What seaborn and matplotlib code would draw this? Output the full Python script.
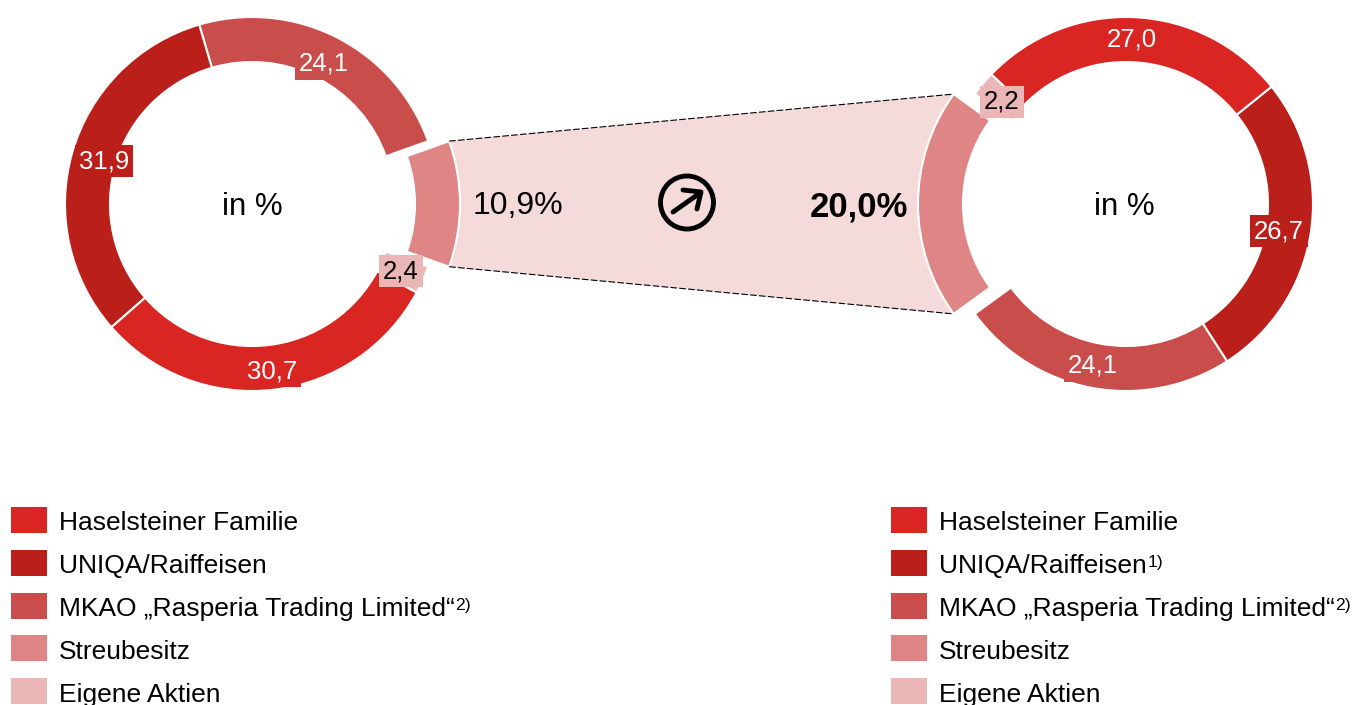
import numpy as np
import matplotlib
matplotlib.use("Agg")
import matplotlib.pyplot as plt
import seaborn as sns
from matplotlib.patches import Circle, Patch

sns.set_theme(style="white")
plt.rcParams["font.family"] = ["Liberation Sans", "DejaVu Sans"]

W, H = 1355, 705

# slice order is the same on both rings, counter clockwise from the Streubesitz wedge
owners = ["Streubesitz", "MKAO", "UNIQA", "Haselsteiner", "Eigene Aktien"]
before = [10.9, 24.1, 31.9, 30.7, 2.4]
after = [20.0, 24.1, 26.7, 27.0, 2.2]
before_label = "10,9%"
after_label = "20,0%"
center_label = "in %"

legend_before = ["Haselsteiner Familie", "UNIQA/Raiffeisen",
                 "MKAO „Rasperia Trading Limited“", "Streubesitz", "Eigene Aktien"]
legend_after = list(legend_before)
notes_before = [None, None, "2)", None, None]
notes_after = [None, "1)", "2)", None, None]

colors = sns.color_palette(["#E08585", "#C94D4A", "#BA1F1A", "#D92622", "#EBB6B6"])
legend_colors = [colors[3], colors[2], colors[1], colors[0], colors[4]]
BAND = "#F5DADA"


def py(y):
    # reference pixel rows run downwards
    return H - y


def comma(v):
    return f"{v:.1f}".replace(".", ",")


fig = plt.figure(figsize=(W / 100, H / 100), dpi=100)
ax = fig.add_axes([0, 0, 1, 1])

R = 187
ring = {"width": 45, "edgecolor": "white", "linewidth": 1.5}
# explode is in data units here, so it is the pull out in pixels
left, _ = ax.pie(before, colors=colors, explode=[21, 0, 0, 0, 0], startangle=-19.6,
                 center=(252, py(204)), radius=R, wedgeprops=ring)
right, _ = ax.pie(after, colors=colors, explode=[21, 0, 0, 0, 0], startangle=144,
                  center=(1126, py(204)), radius=R, wedgeprops=ring)
ax.set_xlim(0, W)
ax.set_ylim(0, H)
ax.set_aspect("equal")
ax.axis("off")


# band between the two pulled out wedges
def arc(w, a, b):
    t = np.radians(np.linspace(a, b, 60))
    return w.center[0] + w.r * np.cos(t), w.center[1] + w.r * np.sin(t)


lw_, rw_ = left[0], right[0]
x1, y1 = arc(lw_, lw_.theta2, lw_.theta1)
x2, y2 = arc(rw_, rw_.theta2, rw_.theta1)
ax.fill(np.r_[x1, x2], np.r_[y1, y2], color=BAND, lw=0, zorder=0)
for i, j in [(0, -1), (-1, 0)]:
    ax.plot([x1[i], x2[j]], [y1[i], y2[j]], color="black", lw=0.8,
            linestyle=(0, (6, 2)), zorder=1)

# value labels on the rings
pos_before = [None, (324, 71), (104, 168), (272, 378), (401, 278)]
pos_after = [None, (1093, 373), (1279, 238), (1132, 46), (1002, 109)]
for vals, pos in [(before, pos_before), (after, pos_after)]:
    for k, (v, p) in enumerate(zip(vals, pos)):
        if p is None:
            continue
        ax.text(p[0], py(p[1]), comma(v), fontsize=18.5, ha="center", va="baseline",
                color="black" if k == 4 else "white", zorder=5,
                bbox=dict(boxstyle="square,pad=0.15", fc=colors[k], ec="none"))

ax.text(252, py(215), center_label, fontsize=22.5, ha="center", va="baseline", color="black")
ax.text(1124, py(215), center_label, fontsize=22.5, ha="center", va="baseline", color="black")
ax.text(518, py(214), before_label, fontsize=23, ha="center", va="baseline", color="black")
ax.text(859, py(217), after_label, fontsize=25, fontweight="bold", ha="center",
        va="baseline", color="black")

# arrow icon in the band
ax.add_patch(Circle((687, py(202.5)), 26.5, fc="none", ec="black", lw=3.5, zorder=4))
ax.plot([673, 700], [py(212), py(193)], color="black", lw=3.5, solid_capstyle="round", zorder=4)
ax.plot([683, 701, 697], [py(190), py(192), py(209)], color="black", lw=3.5,
        solid_capstyle="round", solid_joinstyle="round", zorder=4)

# the two legends, footnote marks hang on the end of their legend text
for x0, names, notes in [(11, legend_before, notes_before), (891, legend_after, notes_after)]:
    handles = [Patch(fc=c, ec="none") for c in legend_colors]
    lg = ax.legend(handles, names, loc="upper left", bbox_to_anchor=(x0, py(507)),
                   bbox_transform=ax.transData, frameon=False, fontsize=19,
                   borderaxespad=0, borderpad=0, handlelength=1.36, handleheight=1.138,
                   handletextpad=0.45, labelspacing=0.6, labelcolor="black")
    ax.add_artist(lg)
    for txt, note in zip(lg.get_texts(), notes):
        txt.set_y(-1.5)
        if note:
            # zorder above the legend so its layout is done before this is placed
            ax.annotate(note, xy=(1, 0), xycoords=txt, xytext=(0.8, 8), textcoords="offset points",
                        fontsize=12.6, ha="left", va="baseline", color="black",
                        annotation_clip=False, zorder=6)
# add_artist keeps them, without this the last one is drawn twice
ax.legend_ = None

fig.savefig("out.png", dpi=100)
plt.close()
